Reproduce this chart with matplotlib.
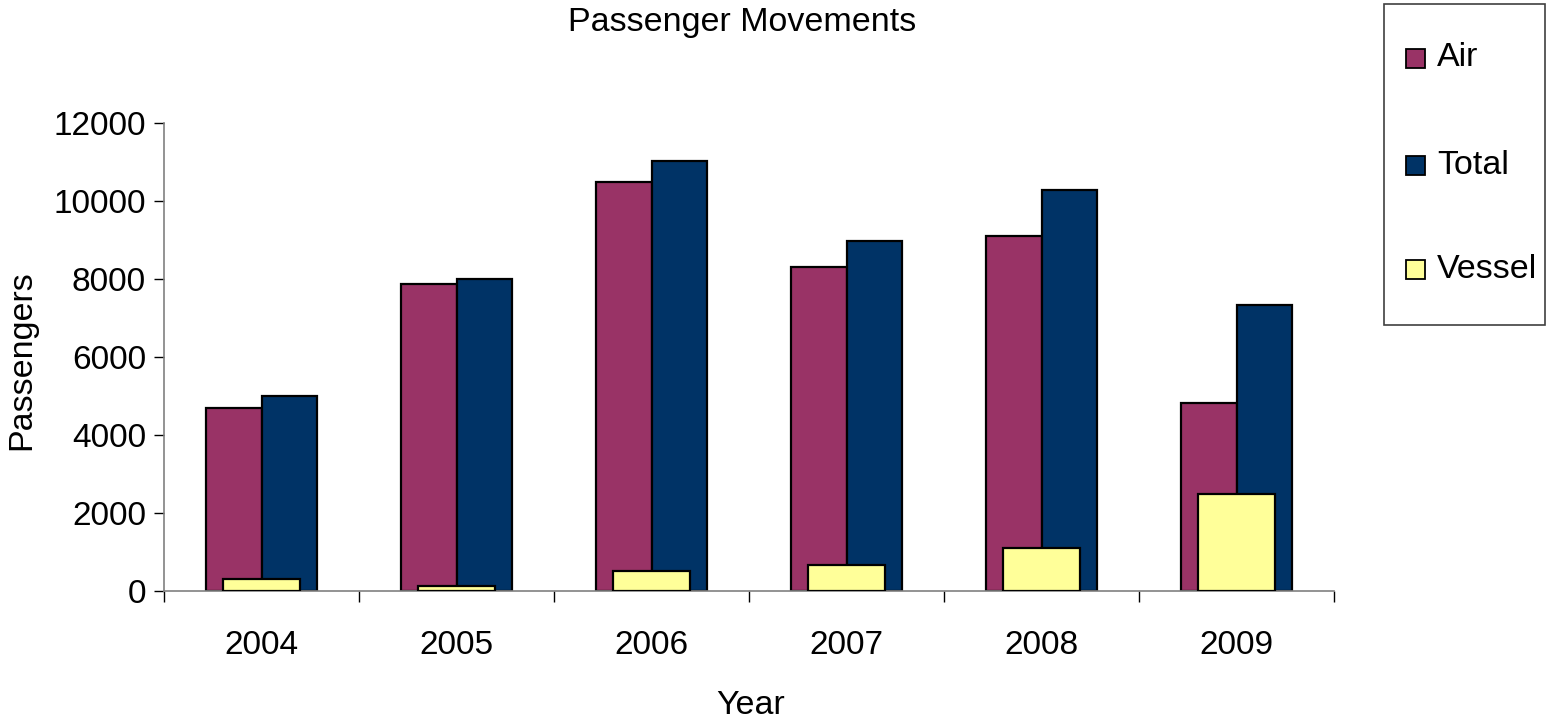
import matplotlib
matplotlib.use("Agg")
import matplotlib.pyplot as plt
from matplotlib.patches import Rectangle
import numpy as np

plt.rcParams['font.family'] = ['Liberation Sans', 'DejaVu Sans']

years = ['2004', '2005', '2006', '2007', '2008', '2009']
air = [4680, 7860, 10500, 8320, 9100, 4810]
total = [5000, 8000, 11030, 8980, 10290, 7330]
vessel = [320, 130, 510, 660, 1110, 2490]

series_names = ['Air', 'Total', 'Vessel']
colors = ['#993366', '#003366', '#FFFF99']

W, H = 1548, 722
fig = plt.figure(figsize=(W / 100, H / 100), dpi=100)
ax = fig.add_axes([164 / W, 1 - 591 / H, (1334 - 164) / W, (591 - 123) / H])

x = np.arange(len(years))
bw = 0.286
lw = 1.6
ax.bar(x - bw / 2, air, width=bw, color=colors[0], edgecolor='black', linewidth=lw, zorder=2)
ax.bar(x + bw / 2, total, width=bw, color=colors[1], edgecolor='black', linewidth=lw, zorder=2)
ax.bar(x, vessel, width=0.395, color=colors[2], edgecolor='black', linewidth=lw, zorder=3)

ax.set_xlim(-0.5, len(years) - 0.5)
ax.set_ylim(0, 12000)
ax.set_yticks(np.arange(0, 12001, 2000))
ax.set_yticklabels([str(v) for v in range(0, 12001, 2000)], fontsize=24)

ax.set_xticks(np.arange(-0.5, len(years), 1.0))
ax.set_xticklabels([])
ax.set_xticks(x, minor=True)
ax.set_xticklabels(years, minor=True, fontsize=24)
ax.tick_params(axis='x', which='major', direction='out', length=8, width=1, color='black')
ax.tick_params(axis='x', which='minor', length=0, pad=28)
ax.tick_params(axis='y', direction='out', length=7, width=1, color='black', pad=6)

for s in ['top', 'right']:
    ax.spines[s].set_visible(False)
for s in ['left', 'bottom']:
    ax.spines[s].set_color('#808080')
    ax.spines[s].set_linewidth(1.2)

fig.text(742 / W, 1 - 22 / H, 'Passenger Movements', ha='center', va='center', fontsize=24.5)
fig.text(751 / W, 1 - 705 / H, 'Year', ha='center', va='center', fontsize=24.5)
fig.text(22 / W, 1 - 360 / H, 'Passengers', ha='center', va='center', rotation=90, fontsize=24.5)

# legend
fig.add_artist(Rectangle((1384 / W, 1 - 325 / H), (1545 - 1384) / W, (325 - 4) / H,
                         transform=fig.transFigure, fill=False, edgecolor='#404040', linewidth=1.2))
ys = [58, 165, 269]
for name, c, yy in zip(series_names, colors, ys):
    fig.add_artist(Rectangle((1406 / W, 1 - (yy + 9.5) / H), 19 / W, 19 / H,
                             transform=fig.transFigure, facecolor=c, edgecolor='black', linewidth=1.3))
    fig.text(1437 / W, 1 - yy / H, name, ha='left', va='center', fontsize=24.5)

fig.savefig('out.png', dpi=100)
